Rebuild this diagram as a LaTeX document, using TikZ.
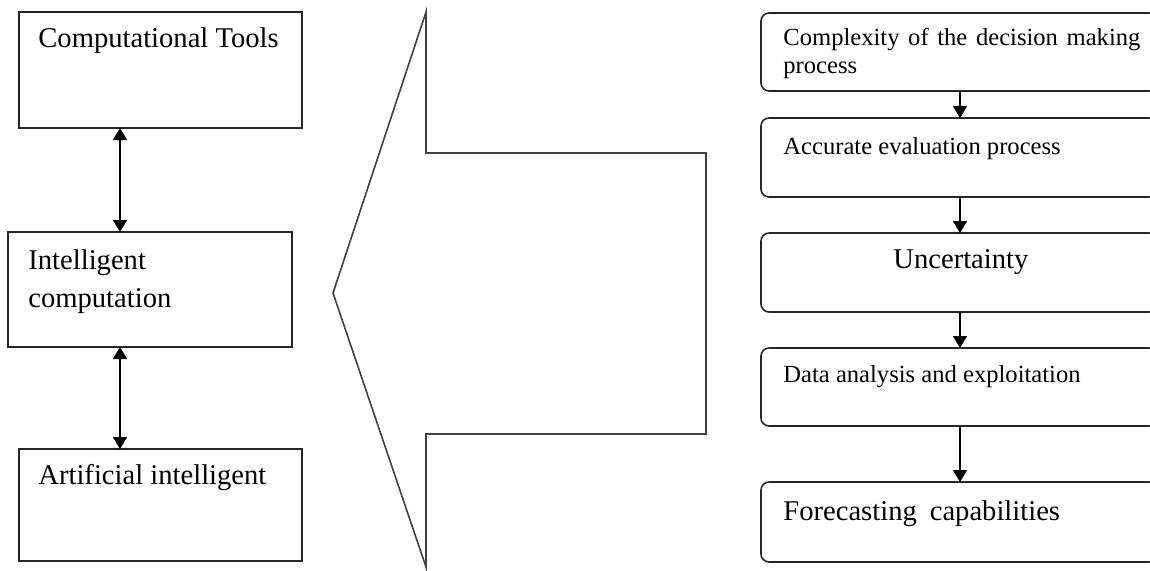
\documentclass[tikz,border=0pt]{standalone}
\usepackage{fontspec}
\setmainfont{Liberation Serif}
\usetikzlibrary{arrows.meta,fit}
\begin{document}
\begin{tikzpicture}[x=0.5pt,y=-0.5pt,
  box/.style={draw=black!85, line width=0.8pt, inner sep=0pt, outer sep=0pt},
  rbox/.style={box, rounded corners=4pt},
  big/.style={font=\fontsize{14.3pt}{17pt}\selectfont},
  small/.style={font=\fontsize{12.3pt}{15pt}\selectfont},
  txt/.style={inner sep=0pt, anchor=base west},
  link/.style={line width=0.65pt, draw=black},
  dbl/.style={link, {Triangle[length=6pt,width=7pt]}-{Triangle[length=6pt,width=7pt]}},
  one/.style={link, -{Triangle[length=6pt,width=7pt]}},
  blockarrow/.style={draw=black!75, line width=0.8pt, line join=miter}
]
\clip (0,0) rectangle (1150,570);
\fill[white] (0,0) rectangle (1150,570);

% left column
\node[box, fit={(19,12) (302,128)}] (b1) {};
\node[box, fit={(8,232) (292,347)}] (b2) {};
\node[box, fit={(19,449) (302,561)}] (b3) {};
\node[txt, big] (t1) at (38,47) {Computational Tools};
\node[txt, big] (t2a) at (28,269) {Intelligent};
\node[txt, big] (t2b) at (28,307) {computation};
\node[txt, big] (t3) at (38,484) {Artificial intelligent};

\coordinate (lx) at (120,0);
\draw[dbl] (b1.south -| lx) -- (b2.north -| lx);
\draw[dbl] (b2.south -| lx) -- (b3.north -| lx);

% block arrow pointing left
\draw[blockarrow] (426,12) -- (426,153) -- (706,153) -- (706,434) -- (426,434)
  -- (426,567) -- (333,293) -- cycle;

% right column
\node[rbox, fit={(761,13) (1157,91)}] (r1) {};
\node[rbox, fit={(761,118) (1157,197)}] (r2) {};
\node[rbox, fit={(761,233) (1157,312)}] (r3) {};
\node[rbox, fit={(761,348) (1157,426)}] (r4) {};
\node[rbox, fit={(761,482) (1157,562)}] (r5) {};

\node[txt, small] (s1a) at (783,45) {\makebox[178.5pt][s]{Complexity of the decision making}};
\node[txt, small] (s1b) at (783,73) {process};
\node[txt, small] (s2) at (783,154) {Accurate evaluation process};
\node[txt, big] (s3) at (893,268) {Uncertainty};
\node[txt, small] (s4) at (783,382) {Data analysis and exploitation};
\node[txt, big] (s5) at (783,520) {Forecasting\hspace{6.5pt}capabilities};

\coordinate (rx) at (960,0);
\draw[one] (r1.south -| rx) -- (r2.north -| rx);
\draw[one] (r2.south -| rx) -- (r3.north -| rx);
\draw[one] (r3.south -| rx) -- (r4.north -| rx);
\draw[one] (r4.south -| rx) -- (r5.north -| rx);
\end{tikzpicture}
\end{document}
